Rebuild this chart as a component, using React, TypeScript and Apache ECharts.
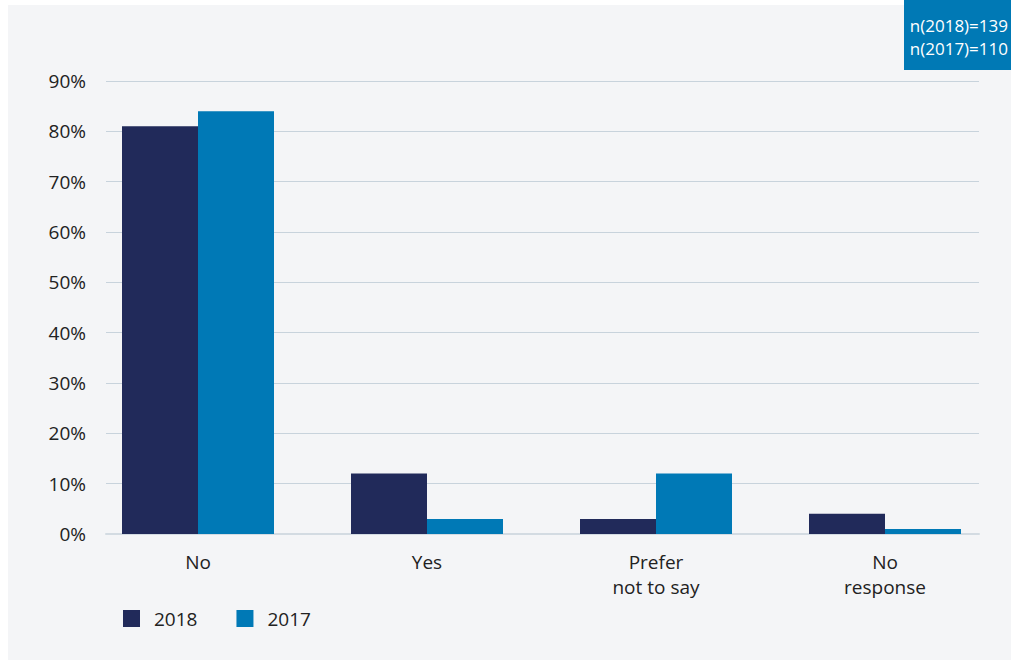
import React, { useEffect, useRef } from "react";
import * as echarts from "echarts";

const categories = ["No", "Yes", "Prefer\nnot to say", "No\nresponse"];
const values2018 = [81, 12, 3, 4];
const values2017 = [84, 3, 12, 1];
const seriesNames = ["2018", "2017"];
const yTicks = { min: 0, max: 90, interval: 10 };
const noteLines = ["n(2018)=139", "n(2017)=110"];

const FONT = "'Open Sans', 'Noto Sans', sans-serif";

export default function App() {
  const ref = useRef<HTMLDivElement>(null);
  useEffect(() => {
    if (!ref.current) return;
    const chart = echarts.init(ref.current, null, { renderer: "svg" });
    chart.setOption({
      animation: false,
      backgroundColor: "transparent",
      textStyle: { fontFamily: FONT },
      graphic: [
        {
          type: "rect",
          z: -10,
          silent: true,
          shape: { x: 0, y: 5, width: 1003, height: 655 },
          style: { fill: "#f4f5f7" },
        },
        {
          type: "rect",
          z: 10,
          shape: { x: 896, y: 0, width: 107, height: 70 },
          style: { fill: "#0079b5" },
        },
        {
          type: "text",
          z: 11,
          style: {
            x: 1000,
            y: 14,
            text: noteLines.join("\n"),
            align: "right",
            verticalAlign: "top",
            fill: "#ffffff",
            font: `17px ${FONT}`,
            lineHeight: 23,
          },
        },
      ],
      legend: {
        left: 110,
        top: 604,
        itemWidth: 17,
        itemHeight: 17,
        itemGap: 39,
        icon: "rect",
        data: seriesNames,
        textStyle: { fontSize: 19, color: "#222", padding: [0, 0, 0, 9], fontFamily: FONT },
      },
      grid: [
        { left: 98, top: 81, width: 873, height: 453 },
        { left: 75.5, top: 81, width: 916, height: 453 },
      ],
      xAxis: [
        {
          gridIndex: 0,
          type: "value",
          min: 0,
          max: 1,
          axisLabel: { show: false },
          axisTick: { show: false },
          splitLine: { show: false },
          axisLine: { show: true, lineStyle: { color: "#d3dbe2", width: 2 } },
        },
        {
          gridIndex: 1,
          type: "category",
          data: categories,
          axisLine: { show: false },
          axisTick: { show: false },
          axisLabel: {
            fontSize: 19,
            color: "#222",
            lineHeight: 25,
            margin: 15,
            fontFamily: FONT,
          },
        },
      ],
      yAxis: [
        {
          gridIndex: 0,
          type: "value",
          min: yTicks.min,
          max: yTicks.max,
          interval: yTicks.interval,
          axisLine: { show: false },
          axisTick: { show: false },
          axisLabel: {
            formatter: "{value}%",
            fontSize: 19,
            color: "#222",
            margin: 20,
            fontFamily: FONT,
          },
          splitLine: { lineStyle: { color: "#c8d3dc", width: 1 } },
        },
        {
          gridIndex: 1,
          type: "value",
          min: yTicks.min,
          max: yTicks.max,
          interval: yTicks.interval,
          show: false,
          splitLine: { show: false },
        },
      ],
      series: [
        {
          name: seriesNames[0],
          type: "bar",
          xAxisIndex: 1,
          yAxisIndex: 1,
          data: values2018,
          barWidth: 76,
          barGap: "0%",
          itemStyle: { color: "#212a5a" },
        },
        {
          name: seriesNames[1],
          type: "bar",
          xAxisIndex: 1,
          yAxisIndex: 1,
          data: values2017,
          barWidth: 76,
          barGap: "0%",
          itemStyle: { color: "#0079b6" },
        },
      ],
    });
    return () => chart.dispose();
  }, []);
  return (
    <div
      ref={ref}
      style={{ position: "absolute", left: 8, top: 0, width: 1003, height: 661 }}
    />
  );
}
